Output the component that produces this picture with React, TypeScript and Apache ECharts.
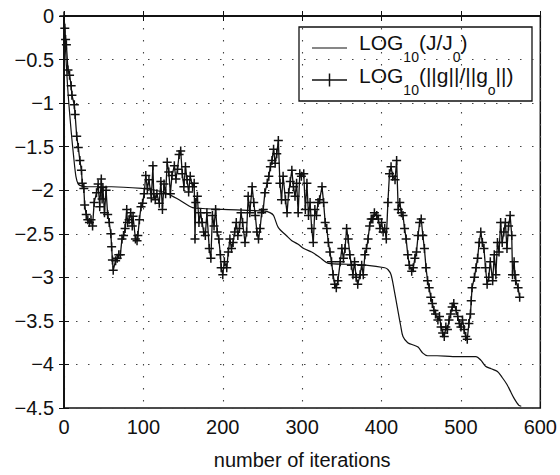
import React, { useEffect, useRef } from "react";
import * as echarts from "echarts";

// iteration, log10(J/J0)
const J_POINTS: [number, number][] = [
  [0, 0], [2, -0.4], [5, -0.87], [9, -1.32], [12, -1.6], [15, -1.84], [18, -1.93], [22, -1.95],
  [30, -1.96], [60, -1.96], [99, -1.98], [115, -2.0], [128, -2.03], [145, -2.11], [162, -2.2],
  [175, -2.21], [200, -2.22], [253, -2.24], [260, -2.26], [264, -2.29], [270, -2.43], [280, -2.52],
  [287, -2.58], [295, -2.62], [302, -2.67], [312, -2.71], [322, -2.77], [333, -2.84], [358, -2.85],
  [380, -2.86], [404, -2.89], [408, -2.91], [412, -2.97], [416, -3.15], [420, -3.35], [424, -3.55],
  [427, -3.68], [433, -3.75], [441, -3.78], [446, -3.8], [452, -3.87], [458, -3.9], [470, -3.9],
  [490, -3.91], [519, -3.91], [525, -3.95], [531, -4.02], [538, -4.05], [546, -4.08], [552, -4.15],
  [558, -4.23], [563, -4.32], [567, -4.39], [573, -4.47], [576, -4.48],
];

// iteration, log10(||g||/||g0||)
const G_POINTS: [number, number][] = [
  [0, 0], [1, -0.14], [2, -0.27], [3, -0.33], [5, -0.62], [7, -0.68], [9, -0.8], [10, -0.91],
  [13, -1.02], [14, -1.13], [16, -1.38], [18, -1.51], [20, -1.66], [22, -1.77], [23, -1.92],
  [25, -1.98], [26, -2.17], [28, -2.28], [30, -2.34], [32, -2.37], [34, -2.34], [36, -2.41],
  [38, -2.14], [41, -2.03], [43, -1.93], [45, -2.19], [47, -1.87], [48, -2.1], [49, -1.97],
  [51, -2.26], [53, -2.0], [55, -2.28], [57, -2.37], [59, -2.5], [60, -2.65], [61, -2.8],
  [62, -2.92], [65, -2.81], [67, -2.78], [69, -2.74], [71, -2.74], [73, -2.56], [75, -2.52],
  [77, -2.44], [79, -2.22], [80, -2.37], [82, -2.34], [84, -2.26], [86, -2.41], [87, -2.3],
  [90, -2.56], [92, -2.58], [93, -2.52], [95, -2.34], [97, -2.19], [99, -2.15], [101, -2.04],
  [103, -1.83], [105, -1.98], [107, -1.88], [110, -2.09], [112, -1.72], [113, -2.04], [115, -2.11],
  [117, -2.04], [120, -2.15], [122, -1.9], [124, -2.22], [126, -1.93], [128, -2.04], [130, -1.68],
  [132, -1.79], [134, -2.04], [136, -1.83], [139, -1.72], [141, -1.87], [143, -1.76], [145, -1.59],
  [147, -1.55], [149, -1.81], [151, -1.96], [153, -1.73], [155, -1.88], [157, -2.02], [159, -1.84],
  [162, -1.96], [164, -1.92], [165, -2.56], [166, -2.14], [168, -2.07], [170, -2.37], [172, -2.26],
  [174, -2.37], [176, -2.48], [178, -2.52], [180, -2.26], [183, -2.67], [185, -2.78], [187, -2.29],
  [189, -2.41], [191, -2.22], [193, -2.48], [195, -2.56], [197, -2.74], [198, -2.89], [200, -2.97],
  [202, -2.82], [205, -2.89], [207, -2.71], [209, -2.56], [211, -2.67], [213, -2.6], [215, -2.48],
  [217, -2.37], [219, -2.52], [221, -2.44], [223, -2.26], [225, -2.37], [228, -2.6], [230, -2.48],
  [232, -2.07], [234, -2.26], [237, -1.96], [239, -2.14], [241, -2.29], [243, -2.48], [245, -2.56],
  [247, -2.44], [249, -2.26], [251, -2.22], [253, -2.03], [256, -1.92], [258, -1.84], [260, -1.73],
  [262, -1.66], [264, -1.53], [266, -1.69], [268, -1.58], [270, -1.43], [272, -1.92], [274, -2.11],
  [276, -1.84], [279, -2.11], [281, -2.26], [283, -2.03], [285, -1.9], [287, -1.77], [289, -1.96],
  [291, -2.07], [293, -1.92], [295, -2.26], [297, -1.81], [299, -1.84], [302, -1.81], [304, -2.22],
  [306, -1.92], [308, -2.29], [310, -2.14], [312, -2.44], [314, -2.6], [316, -2.22], [318, -2.29],
  [320, -2.14], [322, -2.11], [325, -1.96], [327, -2.14], [329, -2.37], [331, -2.44], [333, -2.6],
  [335, -2.71], [337, -2.82], [339, -2.97], [341, -3.08], [343, -3.12], [345, -3.04], [348, -2.82],
  [350, -2.67], [352, -2.78], [354, -2.67], [356, -2.44], [358, -2.56], [360, -2.74], [362, -2.86],
  [364, -2.97], [366, -2.82], [368, -3.0], [370, -3.08], [373, -2.97], [375, -2.86], [377, -2.97],
  [379, -2.74], [381, -2.67], [383, -2.56], [385, -2.41], [387, -2.33], [389, -2.33], [391, -2.26],
  [394, -2.29], [396, -2.33], [398, -2.44], [400, -2.37], [402, -2.48], [404, -2.44], [406, -2.56],
  [408, -2.14], [410, -1.81], [412, -1.73], [414, -1.84], [417, -1.88], [419, -1.66], [421, -2.22],
  [423, -2.14], [425, -2.26], [427, -2.29], [429, -2.44], [431, -2.56], [433, -2.74], [435, -2.86],
  [438, -2.93], [440, -2.89], [442, -2.78], [444, -2.71], [446, -2.52], [448, -2.37], [450, -2.33],
  [452, -2.52], [454, -2.67], [456, -2.89], [458, -3.04], [460, -3.12], [462, -3.23], [464, -3.3],
  [466, -3.38], [468, -3.42], [471, -3.49], [473, -3.45], [475, -3.57], [477, -3.64], [479, -3.68],
  [481, -3.57], [483, -3.6], [485, -3.49], [487, -3.42], [489, -3.34], [491, -3.3], [494, -3.38],
  [496, -3.45], [498, -3.53], [500, -3.57], [502, -3.49], [504, -3.6], [506, -3.68], [508, -3.71],
  [510, -3.53], [512, -3.42], [513, -3.27], [514, -3.12], [517, -3.0], [519, -2.89], [521, -2.78],
  [523, -2.6], [525, -2.48], [527, -2.6], [529, -2.67], [531, -2.89], [533, -3.08], [535, -3.0],
  [537, -2.82], [540, -3.04], [542, -2.74], [544, -2.97], [546, -2.6], [548, -2.71], [550, -2.37],
  [552, -2.6], [554, -2.48], [556, -2.37], [558, -2.67], [560, -2.41], [562, -2.29], [564, -2.52],
  [565, -2.97], [567, -2.82], [568, -2.97], [569, -3.04], [572, -3.12], [574, -3.23],
];

const X_MIN = 0;
const X_MAX = 600;
const X_STEP = 100;
const Y_MIN = -4.5;
const Y_MAX = 0;
const Y_STEP = 0.5;

const SERIES_J = "LOG10(J/J0)";
const SERIES_G = "LOG10(||g||/||go||)";
const LEGEND_J = "{a|LOG}{s|10}{a|(J/J}{s|0}{a|)}";
const LEGEND_G = "{a|LOG}{s|10}{a|(||g||/||g}{s|o}{a|||)}";
const X_NAME = "number of iterations";

const FONT = "'Liberation Sans', Arial, Helvetica, sans-serif";
const INK = "#111";

export default function App() {
  const ref = useRef<HTMLDivElement>(null);

  useEffect(() => {
    if (!ref.current) return;
    const chart = echarts.init(ref.current, null, { renderer: "svg" });

    const gridLine = { type: [1.5, 10.5] as number[], color: "#444", width: 1.1 };
    const axisLine = { show: true, lineStyle: { color: INK, width: 1.5 } };
    const tick = { show: true, inside: true, length: 5, lineStyle: { color: INK, width: 1 } };
    const label = { fontSize: 20, color: INK, fontFamily: FONT };

    const plus = "path://M5 0L5 10M0 5L10 5";

    const rich = {
      a: { fontSize: 21, lineHeight: 21, verticalAlign: "top", fontFamily: FONT, fill: INK, color: INK },
      s: { fontSize: 14, lineHeight: 14, verticalAlign: "top", padding: [18, 0, 1, 0], fontFamily: FONT, fill: INK, color: INK },
    };

    // legend box geometry (pixels)
    const LX = 299, LY = 27, LW = 233, LH = 74;
    const row1 = 48, row2 = 80;

    chart.setOption({
      animation: false,
      backgroundColor: "#fff",
      grid: { left: 64, right: 17, top: 16, bottom: 59, containLabel: false, show: true, borderColor: INK, borderWidth: 1.5, backgroundColor: "transparent" },
      xAxis: [
        {
          type: "value",
          min: X_MIN,
          max: X_MAX,
          interval: X_STEP,
          position: "bottom",
          axisLine,
          axisTick: tick,
          axisLabel: { ...label, margin: 9 },
          splitLine: { show: true, lineStyle: gridLine },
          name: X_NAME,
          nameLocation: "middle",
          nameGap: 42,
          nameTextStyle: { fontSize: 20, color: INK, fontFamily: FONT },
        },
        {
          type: "value",
          min: X_MIN,
          max: X_MAX,
          interval: X_STEP,
          position: "top",
          axisLine,
          axisTick: tick,
          axisLabel: { show: false },
          splitLine: { show: false },
        },
      ],
      yAxis: [
        {
          type: "value",
          min: Y_MIN,
          max: Y_MAX,
          interval: Y_STEP,
          position: "left",
          axisLine,
          axisTick: tick,
          axisLabel: {
            ...label,
            margin: 10,
            formatter: (v: number) => (v === 0 ? "0" : (v < 0 ? "\u2212" : "") + String(Math.abs(v))),
          },
          splitLine: { show: true, lineStyle: gridLine },
        },
        {
          type: "value",
          min: Y_MIN,
          max: Y_MAX,
          interval: Y_STEP,
          position: "right",
          axisLine,
          axisTick: tick,
          axisLabel: { show: false },
          splitLine: { show: false },
        },
      ],
      series: [
        {
          name: SERIES_J,
          type: "line",
          xAxisIndex: 0,
          yAxisIndex: 0,
          data: J_POINTS,
          showSymbol: false,
          symbol: "none",
          smooth: 0.3,
          lineStyle: { color: INK, width: 1.2 },
          itemStyle: { color: INK },
          z: 3,
        },
        {
          name: SERIES_G,
          type: "line",
          xAxisIndex: 0,
          yAxisIndex: 0,
          data: G_POINTS,
          symbol: plus,
          symbolSize: 9,
          showAllSymbol: true,
          lineStyle: { color: INK, width: 1.3 },
          itemStyle: { color: "none", borderColor: INK, borderWidth: 1.5 },
          z: 2,
        },
        {
          // empty series so the secondary (top/right) axes are drawn
          type: "line",
          xAxisIndex: 1,
          yAxisIndex: 1,
          data: [],
          silent: true,
        },
      ],
      graphic: [
        {
          type: "group",
          z: 100,
          children: [
            {
              type: "rect",
              shape: { x: LX, y: LY, width: LW, height: LH },
              style: { fill: "#fff", stroke: INK, lineWidth: 1.3 },
            },
            { type: "line", shape: { x1: 312, y1: row1, x2: 347, y2: row1 }, style: { stroke: INK, lineWidth: 1.2 } },
            { type: "line", shape: { x1: 312, y1: row2, x2: 347, y2: row2 }, style: { stroke: INK, lineWidth: 1.3 } },
            { type: "line", shape: { x1: 329.5, y1: row2 - 6.5, x2: 329.5, y2: row2 + 6.5 }, style: { stroke: INK, lineWidth: 1.5 } },
            {
              type: "text",
              x: 359,
              y: row1 - 16.5,
              style: { text: LEGEND_J, rich, fill: INK, font: "21px " + FONT, verticalAlign: "top", align: "left" },
            },
            {
              type: "text",
              x: 359,
              y: row2 - 15.5,
              style: { text: LEGEND_G, rich, fill: INK, font: "21px " + FONT, verticalAlign: "top", align: "left" },
            },
          ],
        },
      ],
    });

    return () => chart.dispose();
  }, []);

  return (
    <div
      ref={ref}
      style={{ position: "absolute", left: 0, top: 0, width: 560, height: 475, background: "#fff" }}
    />
  );
}
